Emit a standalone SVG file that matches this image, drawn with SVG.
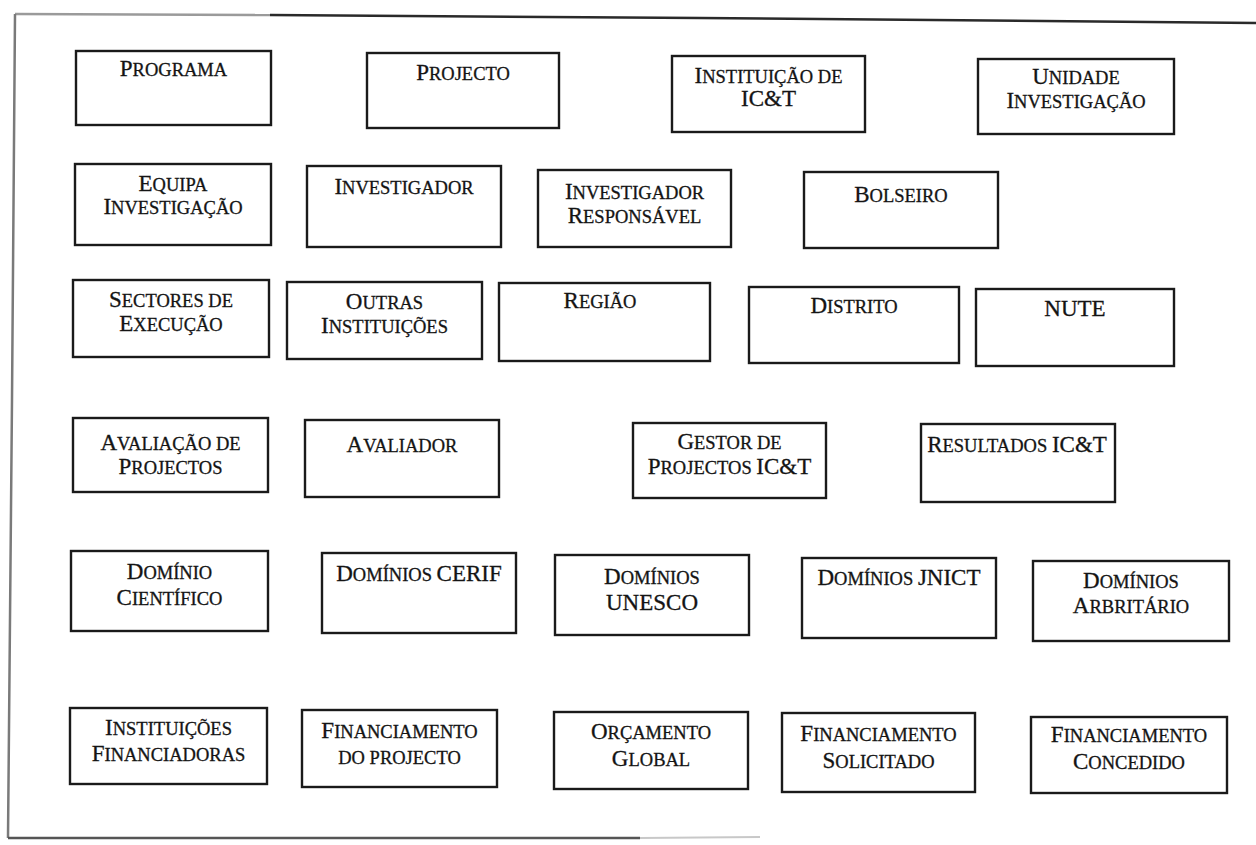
<svg xmlns="http://www.w3.org/2000/svg" width="1256" height="845" viewBox="0 0 1256 845">
<style>
.box{fill:#fff;stroke:#1a1a1a;stroke-width:2.4}
text{font-family:"Liberation Serif","Times New Roman",serif;font-size:18.5px;fill:#141414;stroke:#141414;stroke-width:0.3;text-anchor:middle}
.b{font-size:23px}
.frame{fill:none;stroke-linecap:butt}
</style>
<rect x="0" y="0" width="1256" height="845" fill="#fff"/>
<g id="frame">
<path class="frame" d="M15,14 L270,15" stroke="#9a9a9a" stroke-width="2.5"/>
<path class="frame" d="M270,15 L700,18 L1256,23" stroke="#2a2a2a" stroke-width="2.5"/>
<path class="frame" d="M15,14 L12,400 L8,838" stroke="#7a7a7a" stroke-width="2.5"/>
<path class="frame" d="M8,838 L640,838" stroke="#555" stroke-width="2.5"/>
<path class="frame" d="M640,838 L760,837" stroke="#c8c8c8" stroke-width="2"/>
</g>
<g id="connectors"></g>

<g id="programa"><rect class="box" x="76" y="51" width="195" height="74"/>
<text x="173.5" y="76"><tspan class="b">P</tspan>ROGRAMA</text></g>

<g id="projecto"><rect class="box" x="367" y="53" width="192" height="75"/>
<text x="463" y="80"><tspan class="b">P</tspan>ROJECTO</text></g>

<g id="instituicao"><rect class="box" x="672" y="56" width="193" height="76"/>
<text x="768.5" y="83"><tspan class="b">I</tspan>NSTITUIÇÃO DE</text>
<text x="768.5" y="106"><tspan class="b">IC&amp;T</tspan></text></g>

<g id="unidade"><rect class="box" x="978" y="59" width="196" height="75"/>
<text x="1076" y="84"><tspan class="b">U</tspan>NIDADE</text>
<text x="1076" y="108"><tspan class="b">I</tspan>NVESTIGAÇÃO</text></g>

<g id="equipa"><rect class="box" x="75" y="164" width="196" height="81"/>
<text x="173" y="191"><tspan class="b">E</tspan>QUIPA</text>
<text x="173" y="214"><tspan class="b">I</tspan>NVESTIGAÇÃO</text></g>

<g id="investigador"><rect class="box" x="307" y="166" width="194" height="81"/>
<text x="404" y="194"><tspan class="b">I</tspan>NVESTIGADOR</text></g>

<g id="investigador-responsavel"><rect class="box" x="538" y="170" width="193" height="77"/>
<text x="634.5" y="199"><tspan class="b">I</tspan>NVESTIGADOR</text>
<text x="634.5" y="223"><tspan class="b">R</tspan>ESPONSÁVEL</text></g>

<g id="bolseiro"><rect class="box" x="804" y="172" width="194" height="76"/>
<text x="901" y="202"><tspan class="b">B</tspan>OLSEIRO</text></g>

<g id="sectores"><rect class="box" x="73" y="280" width="196" height="77"/>
<text x="171" y="307"><tspan class="b">S</tspan>ECTORES DE</text>
<text x="171" y="331"><tspan class="b">E</tspan>XECUÇÃO</text></g>

<g id="outras"><rect class="box" x="287" y="282" width="195" height="77"/>
<text x="384.5" y="309"><tspan class="b">O</tspan>UTRAS</text>
<text x="384.5" y="333"><tspan class="b">I</tspan>NSTITUIÇÕES</text></g>

<g id="regiao"><rect class="box" x="499" y="283" width="211" height="78"/>
<text x="600" y="308"><tspan class="b">R</tspan>EGIÃO</text></g>

<g id="distrito"><rect class="box" x="749" y="287" width="210" height="76"/>
<text x="854" y="313"><tspan class="b">D</tspan>ISTRITO</text></g>

<g id="nute"><rect class="box" x="976" y="289" width="198" height="77"/>
<text x="1075" y="316"><tspan class="b">NUTE</tspan></text></g>

<g id="avaliacao"><rect class="box" x="73" y="418" width="195" height="74"/>
<text x="170.5" y="450"><tspan class="b">A</tspan>VALIAÇÃO DE</text>
<text x="170.5" y="474"><tspan class="b">P</tspan>ROJECTOS</text></g>

<g id="avaliador"><rect class="box" x="305" y="420" width="194" height="77"/>
<text x="402" y="452"><tspan class="b">A</tspan>VALIADOR</text></g>

<g id="gestor"><rect class="box" x="633" y="423" width="193" height="75"/>
<text x="729.5" y="449"><tspan class="b">G</tspan>ESTOR DE</text>
<text x="729.5" y="474"><tspan class="b">P</tspan>ROJECTOS <tspan class="b">IC&amp;T</tspan></text></g>

<g id="resultados"><rect class="box" x="921" y="424" width="194" height="78"/>
<text x="1017" y="452"><tspan class="b">R</tspan>ESULTADOS <tspan class="b">IC&amp;T</tspan></text></g>

<g id="dominio-cientifico"><rect class="box" x="71" y="551" width="197" height="80"/>
<text x="169.5" y="579"><tspan class="b">D</tspan>OMÍNIO</text>
<text x="169.5" y="605"><tspan class="b">C</tspan>IENTÍFICO</text></g>

<g id="dominios-cerif"><rect class="box" x="322" y="553" width="194" height="80"/>
<text x="419" y="581"><tspan class="b">D</tspan>OMÍNIOS <tspan class="b">CERIF</tspan></text></g>

<g id="dominios-unesco"><rect class="box" x="555" y="555" width="194" height="80"/>
<text x="652" y="584"><tspan class="b">D</tspan>OMÍNIOS</text>
<text x="652" y="610"><tspan class="b">UNESCO</tspan></text></g>

<g id="dominios-jnict"><rect class="box" x="802" y="558" width="194" height="80"/>
<text x="899" y="585"><tspan class="b">D</tspan>OMÍNIOS <tspan class="b">JNICT</tspan></text></g>

<g id="dominios-arbritario"><rect class="box" x="1033" y="561" width="196" height="80"/>
<text x="1131" y="588"><tspan class="b">D</tspan>OMÍNIOS</text>
<text x="1131" y="613"><tspan class="b">A</tspan>RBRITÁRIO</text></g>

<g id="instituicoes-financiadoras"><rect class="box" x="70" y="708" width="197" height="76"/>
<text x="168.5" y="735"><tspan class="b">I</tspan>NSTITUIÇÕES</text>
<text x="168.5" y="761"><tspan class="b">F</tspan>INANCIADORAS</text></g>

<g id="financiamento-projecto"><rect class="box" x="302" y="710" width="195" height="77"/>
<text x="399.5" y="738"><tspan class="b">F</tspan>INANCIAMENTO</text>
<text x="399.5" y="764">DO PROJECTO</text></g>

<g id="orcamento"><rect class="box" x="554" y="712" width="194" height="77"/>
<text x="651" y="739"><tspan class="b">O</tspan>RÇAMENTO</text>
<text x="651" y="766"><tspan class="b">G</tspan>LOBAL</text></g>

<g id="financiamento-solicitado"><rect class="box" x="782" y="713" width="193" height="79"/>
<text x="878.5" y="741"><tspan class="b">F</tspan>INANCIAMENTO</text>
<text x="878.5" y="768"><tspan class="b">S</tspan>OLICITADO</text></g>

<g id="financiamento-concedido"><rect class="box" x="1031" y="717" width="196" height="76"/>
<text x="1129" y="742"><tspan class="b">F</tspan>INANCIAMENTO</text>
<text x="1129" y="769"><tspan class="b">C</tspan>ONCEDIDO</text></g>
</svg>
